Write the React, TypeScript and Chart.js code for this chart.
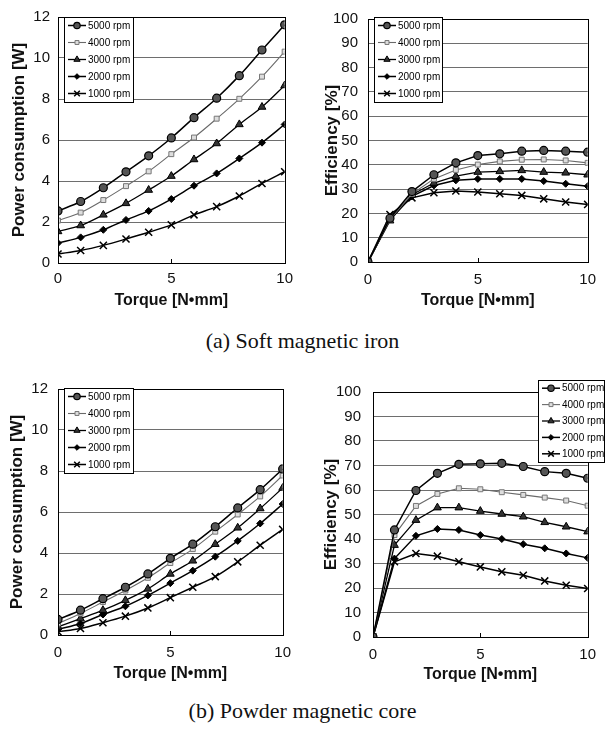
import React, { useEffect, useRef } from "react";
import { Chart, registerables } from "chart.js";
import { drawPoint } from "chart.js/helpers";

Chart.register(...registerables);

// ---------- data ----------
const torque = [0, 1, 2, 3, 4, 5, 6, 7, 8, 9, 10];
const seriesLabels = ["5000 rpm", "4000 rpm", "3000 rpm", "2000 rpm", "1000 rpm"];
const powerTicks = [0, 2, 4, 6, 8, 10, 12];
const effTicks = [0, 10, 20, 30, 40, 50, 60, 70, 80, 90, 100];

const ironPower5000 = [2.54, 3.0, 3.67, 4.45, 5.23, 6.1, 7.09, 8.04, 9.14, 10.39, 11.62];
const ironPower4000 = [2.07, 2.46, 3.07, 3.75, 4.47, 5.31, 6.12, 7.04, 8.01, 9.09, 10.31];
const ironPower3000 = [1.54, 1.83, 2.35, 2.91, 3.56, 4.24, 5.05, 5.83, 6.76, 7.61, 8.66];
const ironPower2000 = [0.97, 1.25, 1.62, 2.1, 2.54, 3.12, 3.77, 4.37, 5.1, 5.87, 6.76];
const ironPower1000 = [0.44, 0.61, 0.86, 1.17, 1.5, 1.86, 2.35, 2.75, 3.27, 3.88, 4.45];

const ironEff5000 = [0, 18, 29, 35.9, 40.8, 43.8, 44.5, 45.6, 45.9, 45.6, 45.2];
const ironEff4000 = [0, 17.5, 28, 34.2, 37.9, 40.1, 41.4, 42.1, 42.2, 41.8, 40.8];
const ironEff3000 = [0, 17, 27.7, 32.5, 35.3, 37, 37.3, 37.7, 37, 36.7, 35.9];
const ironEff2000 = [0, 17.5, 27, 31.5, 33.6, 34.2, 34.2, 34.2, 33.3, 32.2, 31.2];
const ironEff1000 = [0, 19.5, 26.4, 28.5, 29.2, 28.8, 28.1, 27.4, 26.0, 24.7, 23.7];

const powderPower5000 = [0.76, 1.21, 1.77, 2.33, 2.98, 3.74, 4.43, 5.28, 6.2, 7.09, 8.1];
const powderPower4000 = [0.56, 1.05, 1.61, 2.17, 2.79, 3.51, 4.19, 5.04, 5.88, 6.76, 7.78];
const powderPower3000 = [0.4, 0.8, 1.21, 1.69, 2.25, 2.98, 3.62, 4.43, 5.23, 6.17, 7.17];
const powderPower2000 = [0.27, 0.56, 1.0, 1.4, 1.93, 2.53, 3.14, 3.82, 4.59, 5.44, 6.39];
const powderPower1000 = [0.16, 0.32, 0.6, 0.92, 1.32, 1.82, 2.33, 2.85, 3.57, 4.38, 5.15];

const powderEff5000 = [0, 43.7, 59.8, 66.8, 70.5, 70.7, 70.9, 69.6, 67.5, 66.8, 64.8];
const powderEff4000 = [0, 41.6, 53.5, 58.4, 60.7, 60.3, 59.1, 58, 56.9, 55.7, 53.6];
const powderEff3000 = [0, 37.5, 47.7, 52.8, 52.8, 51.4, 50.2, 49.1, 46.8, 45, 43];
const powderEff2000 = [0, 32, 41.3, 44.1, 43.7, 41.6, 40, 37.9, 36.2, 34.1, 32.3];
const powderEff1000 = [0, 30.7, 34.1, 33, 30.7, 28.6, 26.6, 25.2, 22.9, 21.1, 19.8];

const xTitle = "Torque [N•mm]";
const powerTitle = "Power consumption [W]";
const effTitle = "Efficiency [%]";
const captionA = "(a) Soft magnetic iron";
const captionB = "(b) Powder magnetic core";

// ---------- styles ----------
const SANS = "'Liberation Sans', Arial, sans-serif";
const seriesStyles = [
  { pointStyle: "circle", pointRadius: 4, pointBackgroundColor: "#555", pointBorderColor: "#000", pointBorderWidth: 1.2, borderColor: "#000", borderWidth: 1.5 },
  { pointStyle: "rect", pointRadius: 3.5, pointBackgroundColor: "#ddd", pointBorderColor: "#777", pointBorderWidth: 1, borderColor: "#6a6a6a", borderWidth: 1.1 },
  { pointStyle: "triangle", pointRadius: 4.5, pointBackgroundColor: "#333", pointBorderColor: "#000", pointBorderWidth: 1, borderColor: "#000", borderWidth: 1.3 },
  { pointStyle: "rectRot", pointRadius: 3.5, pointBackgroundColor: "#000", pointBorderColor: "#000", pointBorderWidth: 1, borderColor: "#000", borderWidth: 1.5 },
  { pointStyle: "crossRot", pointRadius: 5, pointBackgroundColor: "#000", pointBorderColor: "#000", pointBorderWidth: 1.5, borderColor: "#000", borderWidth: 1.5 },
];

const framePlugin = {
  id: "frameBox",
  afterDraw(chart: any, _args: any, opts: any) {
    const { ctx, chartArea } = chart;
    const xs = chart.scales.x;
    ctx.save();
    ctx.strokeStyle = "#000";
    ctx.lineWidth = 1;
    ctx.strokeRect(Math.round(chartArea.left) + 0.5, Math.round(chartArea.top) + 0.5,
      Math.round(chartArea.right - chartArea.left), Math.round(chartArea.bottom - chartArea.top));
    xs.ticks.forEach((t: any) => {
      const px = Math.round(xs.getPixelForValue(t.value)) + 0.5;
      ctx.beginPath();
      ctx.moveTo(px, chartArea.bottom);
      ctx.lineTo(px, chartArea.bottom - 4);
      ctx.stroke();
    });
    if (opts && opts.box) {
      const { x, y, w, h } = opts.box;
      ctx.fillStyle = "#fff";
      ctx.fillRect(x, y, w, h);
      ctx.strokeRect(x + 0.5, y + 0.5, w, h);
      const rowH = h / chart.data.datasets.length;
      chart.data.datasets.forEach((ds: any, i: number) => {
        const cy = y + rowH * (i + 0.5);
        const lx0 = x + 4, lx1 = x + 22;
        ctx.strokeStyle = ds.borderColor;
        ctx.lineWidth = ds.borderWidth;
        ctx.beginPath();
        ctx.moveTo(lx0, cy);
        ctx.lineTo(lx1, cy);
        ctx.stroke();
        ctx.fillStyle = ds.pointBackgroundColor;
        ctx.strokeStyle = ds.pointBorderColor;
        ctx.lineWidth = ds.pointBorderWidth;
        drawPoint(ctx, { pointStyle: ds.pointStyle, radius: ds.pointRadius * 0.8, rotation: 0, borderWidth: ds.pointBorderWidth }, (lx0 + lx1) / 2, cy);
        ctx.fillStyle = "#000";
        ctx.font = `10px ${SANS}`;
        ctx.textBaseline = "middle";
        ctx.textAlign = "left";
        ctx.fillText(ds.label, lx1 + 2, cy + 0.5);
      });
    }
    ctx.restore();
  },
};

type PanelProps = {
  left: number; top: number; width: number; height: number;
  series: number[][]; yTicks: number[]; yTitle: string; smooth: boolean;
  yAxisW: number; xAxisH: number; padTop: number; padRight: number;
  yTitlePad: number; xTitlePad: number; yTickPad: number; xTickPad: number;
  legendBox: { x: number; y: number; w: number; h: number };
};

function Panel(p: PanelProps) {
  const ref = useRef<HTMLCanvasElement>(null);
  useEffect(() => {
    if (!ref.current) return;
    const ymax = p.yTicks[p.yTicks.length - 1];
    const ystep = p.yTicks[1] - p.yTicks[0];
    const chart = new Chart(ref.current, {
      type: "line",
      data: {
        datasets: p.series.map((vals, i) => ({
          label: seriesLabels[i],
          data: vals.map((v, j) => ({ x: torque[j], y: v })),
          ...seriesStyles[i],
          tension: p.smooth ? 0.4 : 0,
          cubicInterpolationMode: p.smooth ? "monotone" : "default",
          fill: false,
        })) as any,
      },
      options: {
        animation: false,
        responsive: false,
        devicePixelRatio: 1,
        layout: { padding: { left: 0, right: p.padRight, top: p.padTop, bottom: 0 } },
        plugins: {
          legend: { display: false },
          tooltip: { enabled: false },
          frameBox: { box: p.legendBox },
        } as any,
        scales: {
          x: {
            type: "linear", min: 0, max: 10,
            ticks: { stepSize: 5, padding: p.xTickPad, color: "#111", font: { family: SANS, size: 15 }, maxRotation: 0 },
            grid: { display: false, drawTicks: false },
            border: { display: false },
            title: { display: true, text: xTitle, color: "#111", font: { family: SANS, size: 16, weight: "bold" }, padding: { top: 0, bottom: p.xTitlePad } },
            afterFit: (s: any) => { s.height = p.xAxisH; },
          },
          y: {
            type: "linear", min: 0, max: ymax,
            ticks: { stepSize: ystep, padding: p.yTickPad, color: "#111", font: { family: SANS, size: 15 } },
            grid: { color: "#6e6e6e", lineWidth: 1, drawTicks: false },
            border: { display: false },
            title: { display: true, text: p.yTitle, color: "#111", font: { family: SANS, size: 17, weight: "bold" }, padding: { top: p.yTitlePad, bottom: 0 } },
            afterFit: (s: any) => { s.width = p.yAxisW; },
          },
        },
      } as any,
      plugins: [framePlugin],
    });
    return () => chart.destroy();
  }, []);
  return (
    <canvas
      ref={ref}
      width={p.width}
      height={p.height}
      style={{ position: "absolute", left: p.left, top: p.top, width: p.width, height: p.height }}
    />
  );
}

export default function App() {
  const captionStyle: React.CSSProperties = {
    position: "absolute", left: 0, width: 605, textAlign: "center",
    fontFamily: "'Liberation Serif', 'Times New Roman', serif", fontSize: 22, color: "#111", lineHeight: "26px",
  };
  return (
    <div style={{ position: "fixed", left: 0, top: 0, width: 605, height: 731, background: "#fff", overflow: "hidden" }}>
      <Panel left={0} top={0} width={300} height={320}
        series={[ironPower5000, ironPower4000, ironPower3000, ironPower2000, ironPower1000]}
        yTicks={powerTicks} yTitle={powerTitle} smooth={true}
        yAxisW={58} xAxisH={57} padTop={16} padRight={10}
        yTitlePad={9} xTitlePad={10} yTickPad={8} xTickPad={7}
        legendBox={{ x: 64, y: 17, w: 69, h: 85 }} />
      <Panel left={300} top={0} width={305} height={320}
        series={[ironEff5000, ironEff4000, ironEff3000, ironEff2000, ironEff1000]}
        yTicks={effTicks} yTitle={effTitle} smooth={false}
        yAxisW={68} xAxisH={58} padTop={18} padRight={12}
        yTitlePad={22} xTitlePad={10} yTickPad={10} xTickPad={9}
        legendBox={{ x: 74, y: 17, w: 68, h: 85 }} />
      <Panel left={0} top={370} width={300} height={320}
        series={[powderPower5000, powderPower4000, powderPower3000, powderPower2000, powderPower1000]}
        yTicks={powerTicks} yTitle={powerTitle} smooth={true}
        yAxisW={58} xAxisH={55} padTop={17} padRight={9}
        yTitlePad={7} xTitlePad={7} yTickPad={10} xTickPad={9}
        legendBox={{ x: 64, y: 18, w: 69, h: 85 }} />
      <Panel left={300} top={370} width={305} height={320}
        series={[powderEff5000, powderEff4000, powderEff3000, powderEff2000, powderEff1000]}
        yTicks={effTicks} yTitle={effTitle} smooth={false}
        yAxisW={73} xAxisH={53} padTop={22} padRight={8}
        yTitlePad={21} xTitlePad={6} yTickPad={12} xTickPad={9}
        legendBox={{ x: 238, y: 10, w: 66, h: 82 }} />
      <div style={{ ...captionStyle, top: 328 }}>{captionA}</div>
      <div style={{ ...captionStyle, top: 698 }}>{captionB}</div>
    </div>
  );
}
